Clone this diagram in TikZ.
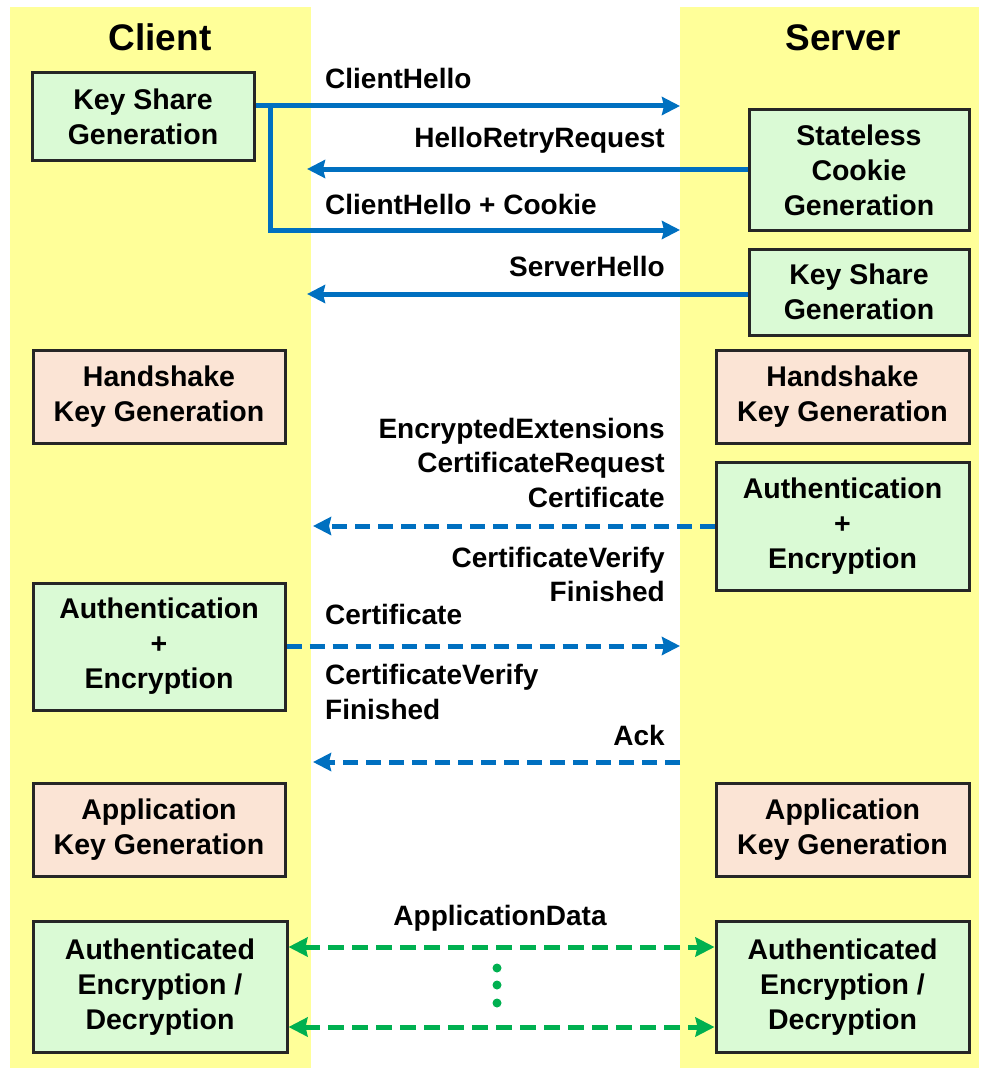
\documentclass[tikz,border=0pt]{standalone}
\usepackage{fontspec}
\setmainfont{Liberation Sans}
\usetikzlibrary{arrows.meta,positioning}

\definecolor{laneyellow}{HTML}{FFFF99}
\definecolor{boxgreen}{HTML}{DAFAD5}
\definecolor{boxpeach}{HTML}{FBE4D5}
\definecolor{msgblue}{HTML}{0070C0}
\definecolor{datagreen}{HTML}{00B050}

\tikzset{
  box/.style={draw=black!85, line width=3pt, inner sep=0pt, align=center,
    font=\fontsize{28.5}{35}\selectfont\bfseries},
  keybox/.style={box, fill=boxgreen},
  genbox/.style={box, fill=boxpeach},
  msg/.style={font=\fontsize{28}{34.5}\selectfont\bfseries, inner sep=0pt},
  title/.style={font=\fontsize{37}{40}\selectfont\bfseries},
  blue arrow/.style={msgblue, line width=5pt, -{Triangle[length=18pt,width=18pt,inset=2pt]}},
  blue dashed/.style={blue arrow, dash pattern=on 15pt off 8pt},
  data arrow/.style={datagreen, line width=5pt, dash pattern=on 16pt off 8pt,
    {Triangle[length=19pt,width=19pt,inset=2pt]}-{Triangle[length=19pt,width=19pt,inset=2pt]}}
}

\begin{document}
\begin{tikzpicture}[x=1pt,y=-1pt]
  \useasboundingbox (0,0) rectangle (981,1070);
  %lanes
  \fill[laneyellow] (10,7) rectangle (311,1068);
  \fill[laneyellow] (680,7) rectangle (979,1068);
  \node[title] (client) at (160,37) {Client};
  \node[title] (server) at (843,38) {Server};
  %client
  \node[keybox, minimum width=222pt, minimum height=87pt] (cks) at (143,116.5) {Key Share\\Generation};
  \node[genbox, minimum width=252pt, minimum height=93pt] (chk) at (159,396.5) {Handshake\\Key Generation};
  \node[keybox, minimum width=252pt, minimum height=127pt] (cauth) at (159,646.5) {Authentication\\+\\Encryption};
  \node[genbox, minimum width=252pt, minimum height=93pt] (cak) at (159,829.5) {Application\\Key Generation};
  \node[keybox, minimum width=254pt, minimum height=131pt] (caed) at (160,987) {Authenticated\\Encryption /\\Decryption};
  %server
  \node[keybox, minimum width=220pt, minimum height=120pt] (sscg) at (859,170) {Stateless\\Cookie\\Generation};
  \node[keybox, minimum width=220pt, minimum height=86pt] (sks) at (859,292) {Key Share\\Generation};
  \node[genbox, minimum width=253pt, minimum height=93pt] (shk) at (842.5,396.5) {Handshake\\Key Generation};
  \node[keybox, minimum width=253pt, minimum height=128pt] (sauth) at (842.5,526) {Authentication\\+\\Encryption};
  \node[genbox, minimum width=253pt, minimum height=93pt] (sak) at (842.5,829.5) {Application\\Key Generation};
  \node[keybox, minimum width=253pt, minimum height=131pt] (saed) at (842.5,987) {Authenticated\\Encryption /\\Decryption};
  %arrow ends
  \coordinate (hello) at (680,106);
  \coordinate (branch) at (270,106);
  \coordinate (cookie) at (680,230);
  \coordinate (retry) at (307,169);
  \coordinate (shello) at (307,294);
  \coordinate (sflight) at (313,526);
  \coordinate (cflight) at (680,646);
  \coordinate (ackstart) at (680,762);
  \coordinate (ack) at (313,762);
  %messages
  \draw[blue arrow] (cks.east |- hello) -- (hello);
  \draw[blue arrow] (branch) -- (branch |- cookie) -- (cookie);
  \draw[blue arrow] (sscg.west |- retry) -- (retry);
  \draw[blue arrow] (sks.west |- shello) -- (shello);
  \draw[blue dashed] (sauth.west |- sflight) -- (sflight);
  \draw[blue dashed] (cauth.east |- cflight) -- (cflight);
  \draw[blue dashed] (ackstart) -- (ack);
  \draw[data arrow] (caed.east |- 0,947) -- (saed.west |- 0,947);
  \draw[data arrow] (caed.east |- 0,1027) -- (saed.west |- 0,1027);
  \foreach \y in {968,985,1003}
    \fill[datagreen] (497,\y) circle (4.5pt);
  %labels
  \node[msg, anchor=west] (lhello) at (325,78) {ClientHello};
  \node[msg, anchor=east] (lretry) at (665,140) {HelloRetryRequest};
  \node[msg, anchor=west] (lcookie) at (325,204) {ClientHello + Cookie};
  \node[msg, anchor=east] (lshello) at (665,266) {ServerHello};
  \node[msg, anchor=east, align=right] (lsflight) at (665,462.5) {EncryptedExtensions\\CertificateRequest\\Certificate};
  \node[msg, anchor=east, align=right] (lsfin) at (665,574.5) {CertificateVerify\\Finished};
  \node[msg, anchor=west] (lccert) at (325,614) {Certificate};
  \node[msg, anchor=west, align=left] (lcfin) at (325,692) {CertificateVerify\\Finished};
  \node[msg, anchor=east] (lack) at (665,735) {Ack};
  \node[msg] (ldata) at (500,918) {ApplicationData};
\end{tikzpicture}
\end{document}
